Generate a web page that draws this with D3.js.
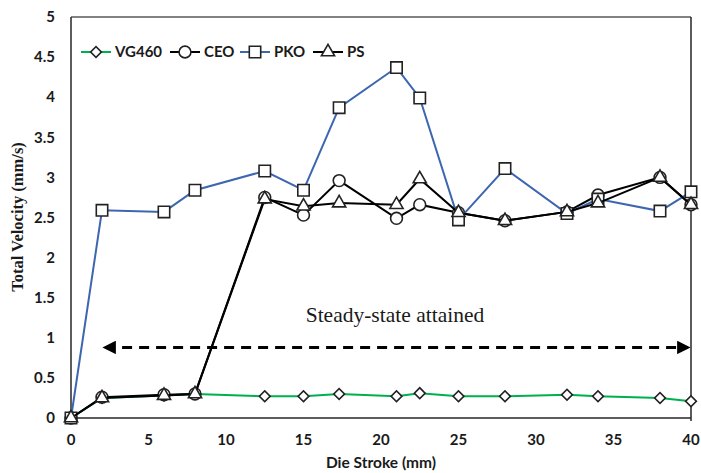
<!DOCTYPE html>
<html>
<head>
<meta charset="utf-8">
<script src="https://cdn.jsdelivr.net/npm/d3@7"></script>
<style>
  body { margin: 0; background: #fff; }
  .tick-lbl { font-family: Lato, "Open Sans", sans-serif; font-weight: bold; font-size: 15px; fill: #1a1a1a; }
</style>
</head>
<body>
<div class="canvas"></div>
<script>
// die stroke positions (mm)
const stroke = [0, 2, 6, 8, 12.5, 15, 17.3, 21, 22.5, 25, 28, 32, 34, 38, 40];

// total velocity (mm/s)
const vg460 = [0, 0.25, 0.28, 0.30, 0.27, 0.27, 0.30, 0.27, 0.31, 0.27, 0.27, 0.29, 0.27, 0.25, 0.21];
const ceo   = [0, 0.26, 0.29, 0.30, 2.75, 2.53, 2.96, 2.49, 2.66, 2.56, 2.46, 2.57, 2.78, 3.00, 2.66];
const pko   = [0, 2.59, 2.57, 2.84, 3.08, 2.84, 3.87, 4.37, 3.99, 2.47, 3.11, 2.55, 2.73, 2.58, 2.82];
const ps    = [0, 0.25, 0.28, 0.30, 2.73, 2.64, 2.68, 2.66, 2.98, 2.56, 2.46, 2.57, 2.68, 3.00, 2.66];

const xTicks = [0, 5, 10, 15, 20, 25, 30, 35, 40];
const yTicks = [0, 0.5, 1, 1.5, 2, 2.5, 3, 3.5, 4, 4.5, 5];

const series = [
  {name: 'VG460', values: vg460, color: '#00b050', marker: 'diamond'},
  {name: 'CEO',   values: ceo,   color: '#000000', marker: 'circle'},
  {name: 'PKO',   values: pko,   color: '#3d66b0', marker: 'square'},
  {name: 'PS',    values: ps,    color: '#000000', marker: 'triangle'}
];

const dims = {width: 701, height: 473};
const m = {left: 71, right: 10, top: 17, bottom: 55};
const w = dims.width - m.left - m.right;   // 620
const h = dims.height - m.top - m.bottom;  // 401

const svg = d3.select('.canvas').append('svg')
    .attr('width', dims.width).attr('height', dims.height);

const graph = svg.append('g').attr('transform', `translate(${m.left},${m.top})`);

const x = d3.scaleLinear().domain([0, 40]).range([0, w]);
const y = d3.scaleLinear().domain([0, 5]).range([h, 0]);

// frame: top/right grey, left/bottom dark
graph.append('line').attr('x1', 0).attr('x2', w).attr('y1', 0).attr('y2', 0)
    .attr('stroke', '#595959').attr('stroke-width', 1.5);
graph.append('line').attr('x1', w).attr('x2', w).attr('y1', 0).attr('y2', h + 3)
    .attr('stroke', '#262626').attr('stroke-width', 1.5);
graph.append('line').attr('x1', 0).attr('x2', 0).attr('y1', 0).attr('y2', h)
    .attr('stroke', '#262626').attr('stroke-width', 1.5);
graph.append('line').attr('x1', 0).attr('x2', w).attr('y1', h).attr('y2', h)
    .attr('stroke', '#262626').attr('stroke-width', 1.5);

// tick labels (no tick marks in the original)
graph.selectAll('.ylbl').data(yTicks).enter().append('text')
    .attr('class', 'tick-lbl')
    .attr('x', -16).attr('y', d => y(d)).attr('dy', '0.35em')
    .attr('text-anchor', 'end')
    .text(d => d);

graph.selectAll('.xlbl').data(xTicks).enter().append('text')
    .attr('class', 'tick-lbl')
    .attr('x', d => x(d)).attr('y', h + 27)
    .attr('text-anchor', 'middle')
    .text(d => d);

// axis titles
svg.append('text')
    .attr('x', m.left + w / 2).attr('y', 468)
    .attr('text-anchor', 'middle')
    .style('font-family', 'Lato, sans-serif').style('font-weight', 'bold').style('font-size', '15.5px')
    .attr('fill', '#1a1a1a')
    .text('Die Stroke (mm)');

svg.append('text')
    .attr('transform', `translate(23,${m.top + 200}) rotate(-90)`)
    .attr('text-anchor', 'middle')
    .style('font-family', '"Liberation Serif", "Times New Roman", serif').style('font-weight', 'bold').style('font-size', '16.5px')
    .attr('fill', '#1a1a1a')
    .text('Total Velocity (mm/s)');

// annotation: steady-state arrow
const defs = svg.append('defs');
defs.append('marker').attr('id', 'ah')
    .attr('viewBox', '0 0 10 10').attr('refX', 8).attr('refY', 5)
    .attr('markerWidth', 4.5).attr('markerHeight', 4.5).attr('orient', 'auto-start-reverse')
    .append('path').attr('d', 'M0,0 L10,5 L0,10 Z').attr('fill', '#000');

graph.append('line')
    .attr('x1', x(2.2)).attr('x2', x(39.8))
    .attr('y1', y(0.88)).attr('y2', y(0.88))
    .attr('stroke', '#000').attr('stroke-width', 3)
    .attr('stroke-dasharray', '10,7')
    .attr('marker-start', 'url(#ah)').attr('marker-end', 'url(#ah)');

graph.append('text')
    .attr('x', x(20.9)).attr('y', y(1.2))
    .attr('text-anchor', 'middle')
    .style('font-family', '"Liberation Serif", "Times New Roman", serif').style('font-size', '21.5px')
    .attr('fill', '#1a1a1a')
    .text('Steady-state attained');

// marker shapes (diamond = square turned 45deg, like Excel)
const sym = {
  diamond: d3.symbol().type(d3.symbolSquare).size(58),
  circle: d3.symbol().type(d3.symbolCircle).size(110),
  square: d3.symbol().type(d3.symbolSquare).size(130),
  triangle: d3.symbol().type(d3.symbolTriangle).size(75)
};
const rot = mk => mk === 'diamond' ? ' rotate(45)' : '';

const line = d3.line().x(d => x(d[0])).y(d => y(d[1]));

series.forEach(s => {
  const pts = stroke.map((xv, i) => [xv, s.values[i]]);
  const g = graph.append('g');
  g.append('path').datum(pts)
      .attr('d', line)
      .attr('fill', 'none').attr('stroke', s.color).attr('stroke-width', 2);
  g.selectAll('path.mk').data(pts).enter().append('path')
      .attr('class', 'mk')
      .attr('d', sym[s.marker])
      .attr('transform', d => `translate(${x(d[0])},${y(d[1])})` + rot(s.marker))
      .attr('fill', '#fff').attr('stroke', '#222').attr('stroke-width', 1.6);
});

// legend
const legendX = [10, 99, 169, 242];
const leg = graph.selectAll('.leg').data(series).enter().append('g')
    .attr('transform', (d, i) => `translate(${legendX[i]},${35})`);
leg.append('line').attr('x1', 0).attr('x2', 30).attr('y1', 0).attr('y2', 0)
    .attr('stroke', d => d.color).attr('stroke-width', 2);
leg.append('path')
    .attr('d', d => sym[d.marker]())
    .attr('transform', d => 'translate(15,0)' + rot(d.marker))
    .attr('fill', '#fff').attr('stroke', '#222').attr('stroke-width', 1.6);
leg.append('text')
    .attr('x', 34).attr('dy', '0.35em')
    .style('font-family', 'Lato, sans-serif').style('font-weight', 'bold').style('font-size', '15px')
    .attr('fill', '#1a1a1a')
    .text(d => d.name);
</script>
</body>
</html>
